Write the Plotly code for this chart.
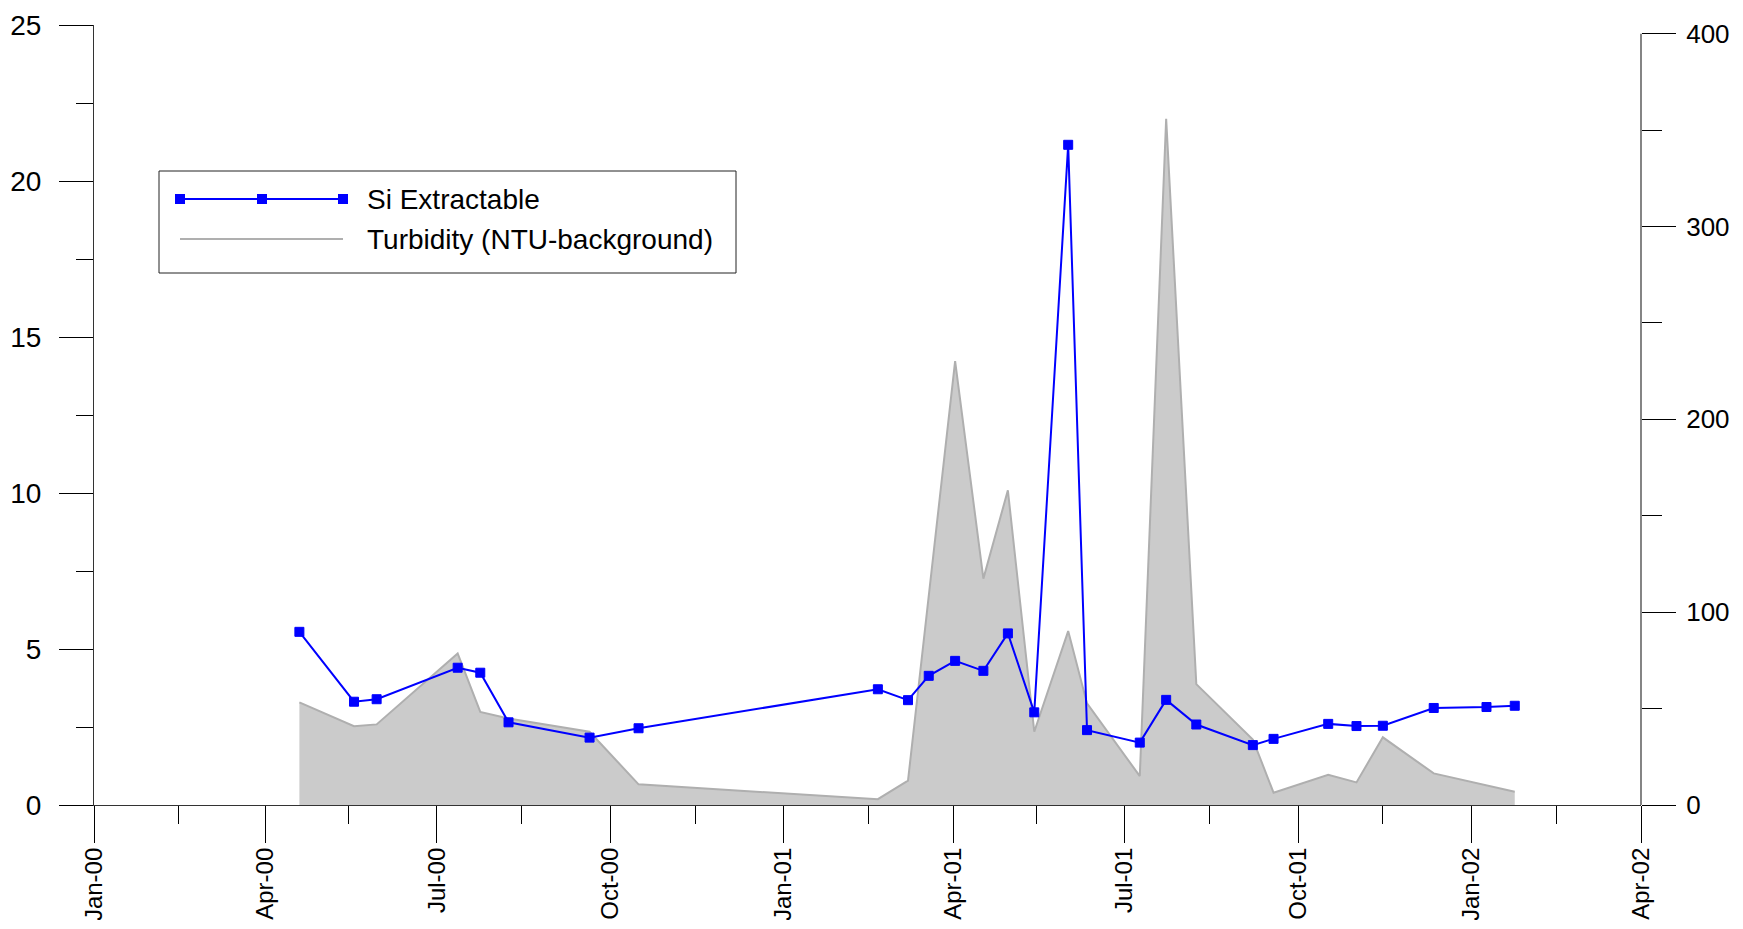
import plotly.graph_objects as go

# ---- data ----
si_dates = ["2000-04-19", "2000-05-18", "2000-05-30", "2000-07-12", "2000-07-24", "2000-08-08",
            "2000-09-20", "2000-10-16", "2001-02-20", "2001-03-08", "2001-03-19", "2001-04-02",
            "2001-04-17", "2001-04-30", "2001-05-14", "2001-06-01", "2001-06-11", "2001-07-09",
            "2001-07-23", "2001-08-08", "2001-09-07", "2001-09-18", "2001-10-17", "2001-11-01",
            "2001-11-15", "2001-12-12", "2002-01-09", "2002-01-24"]
si_values = [5.55, 3.31, 3.39, 4.40, 4.24, 2.65, 2.16, 2.46, 3.71, 3.36, 4.14, 4.62,
             4.30, 5.50, 2.97, 21.16, 2.40, 2.00, 3.37, 2.58, 1.92, 2.12, 2.60, 2.53,
             2.54, 3.11, 3.14, 3.18]

turb_dates = ["2000-04-19", "2000-05-18", "2000-05-30", "2000-07-12", "2000-07-24", "2000-08-08",
              "2000-09-20", "2000-10-16", "2001-02-20", "2001-03-08", "2001-04-02",
              "2001-04-17", "2001-04-30", "2001-05-14", "2001-06-01", "2001-06-11", "2001-07-09",
              "2001-07-23", "2001-08-08", "2001-09-07", "2001-09-18", "2001-10-17", "2001-11-01",
              "2001-11-15", "2001-12-12", "2002-01-24"]
turb_values = [53.2, 40.9, 41.8, 78.6, 48.3, 44.9, 38.0, 10.7, 3.0, 12.6, 230.2,
               117.4, 163.2, 38.0, 90.2, 52.7, 15.0, 355.8, 62.7, 34.0, 6.4, 15.7, 11.7,
               35.1, 16.4, 6.9]

si_name = "Si Extractable"
turb_name = "Turbidity (NTU-background)"

FONT = "Liberation Sans, Arial, sans-serif"
FS = 28
FSY2 = 26
FSX = 24
BLUE = "#0000FF"
GREY_FILL = "#CBCBCB"
GREY_LINE = "#AFAFAF"

# page body adds an 8px offset; size the figure so the page does not scroll,
# and place the plot area where intended in window pixels
OFF = 8
W, H = 1726, 912
PL, PR, PT, PB = 94, 1641, 25, 805   # intended plot area in window pixels
ML = PL - OFF
MT = PT - OFF
PW, PH = PR - PL, PB - PT
MR = W - ML - PW
MB = H - MT - PH


def px_x(px):
    return (px - PL) / PW


def px_y(py):
    return (PB - py) / PH


fig = go.Figure()

fig.add_trace(go.Scatter(
    x=turb_dates, y=turb_values, name=turb_name, yaxis="y",
    mode="lines", fill="tozeroy", fillcolor=GREY_FILL,
    line=dict(color=GREY_LINE, width=2), showlegend=False,
))

fig.add_trace(go.Scatter(
    x=si_dates, y=si_values, name=si_name, yaxis="y2",
    mode="lines+markers", line=dict(color=BLUE, width=2),
    marker=dict(symbol="square", size=9, color=BLUE, line=dict(color=BLUE, width=1)),
    showlegend=False,
))

shapes = []
# right axis line only up to 400
shapes.append(dict(type="line", xref="paper", x0=1, x1=1, yref="y", y0=0, y1=400,
                   line=dict(color="#333333", width=1.2), layer="above"))

# custom legend
bx0, bx1, by0, by1 = px_x(159), px_x(736), px_y(273), px_y(171)
shapes.append(dict(type="rect", xref="paper", yref="paper", x0=bx0, x1=bx1, y0=by0, y1=by1,
                   line=dict(color="#222222", width=1), fillcolor="white", layer="above"))
ly1, ly2 = px_y(199), px_y(239)
shapes.append(dict(type="line", xref="paper", yref="paper", x0=px_x(180), x1=px_x(343),
                   y0=ly1, y1=ly1, line=dict(color=BLUE, width=2), layer="above"))
for mx in (180, 262, 343):
    shapes.append(dict(type="rect", xref="paper", yref="paper",
                       xsizemode="pixel", ysizemode="pixel",
                       xanchor=px_x(mx), yanchor=ly1, x0=-5, x1=5, y0=-5, y1=5,
                       line=dict(color=BLUE, width=0), fillcolor=BLUE, layer="above"))
shapes.append(dict(type="line", xref="paper", yref="paper", x0=px_x(180), x1=px_x(343),
                   y0=ly2, y1=ly2, line=dict(color=GREY_LINE, width=2), layer="above"))

annotations = [
    dict(text=si_name, xref="paper", yref="paper", x=px_x(365), y=ly1, xanchor="left",
         yanchor="middle", showarrow=False, font=dict(family=FONT, size=FS, color="black")),
    dict(text=turb_name, xref="paper", yref="paper", x=px_x(365), y=ly2, xanchor="left",
         yanchor="middle", showarrow=False, font=dict(family=FONT, size=FS, color="black")),
]

fig.update_layout(
    width=W, height=H,
    margin=dict(l=ML, r=MR, t=MT, b=MB, autoexpand=False),
    paper_bgcolor="white", plot_bgcolor="white",
    showlegend=False,
    font=dict(family=FONT, size=FS, color="black"),
    xaxis=dict(
        type="date", range=["2000-01-01", "2002-04-01"], automargin=False,
        tick0="2000-01-01", dtick="M3", tickformat="%b-%y", tickangle=-90,
        ticks="outside", ticklen=37, tickwidth=1.2, tickcolor="black",
        showline=True, linecolor="#333333", linewidth=1.2,
        showgrid=False, zeroline=False,
        tickfont=dict(family=FONT, size=FSX, color="black"), ticklabelstandoff=-5,
        minor=dict(tick0="2000-02-15", dtick="M3", ticks="outside", ticklen=18,
                   tickwidth=1.2, tickcolor="black", showgrid=False),
    ),
    yaxis=dict(
        side="right", range=[0, 404.5], tick0=0, dtick=100, automargin=False,
        ticks="outside", ticklen=34, tickwidth=1.2, tickcolor="black",
        showline=False, showgrid=False, zeroline=False,
        tickfont=dict(family=FONT, size=FSY2, color="black"),
        ticklabelstandoff=5,
        minor=dict(tick0=0, dtick=50, ticks="outside", ticklen=20,
                   tickwidth=1.2, tickcolor="black", showgrid=False),
    ),
    yaxis2=dict(
        side="left", overlaying="y", range=[0, 25], tick0=0, dtick=5, automargin=False,
        ticks="outside", ticklen=34, tickwidth=1.2, tickcolor="black",
        showline=True, linecolor="#333333", linewidth=1.2,
        showgrid=False, zeroline=False,
        tickfont=dict(family=FONT, size=FS, color="black"), ticklabelstandoff=12,
        minor=dict(tick0=0, dtick=2.5, ticks="outside", ticklen=17,
                   tickwidth=1.2, tickcolor="black", showgrid=False),
    ),
    shapes=shapes,
    annotations=annotations,
)

fig.write_html("out.html")
